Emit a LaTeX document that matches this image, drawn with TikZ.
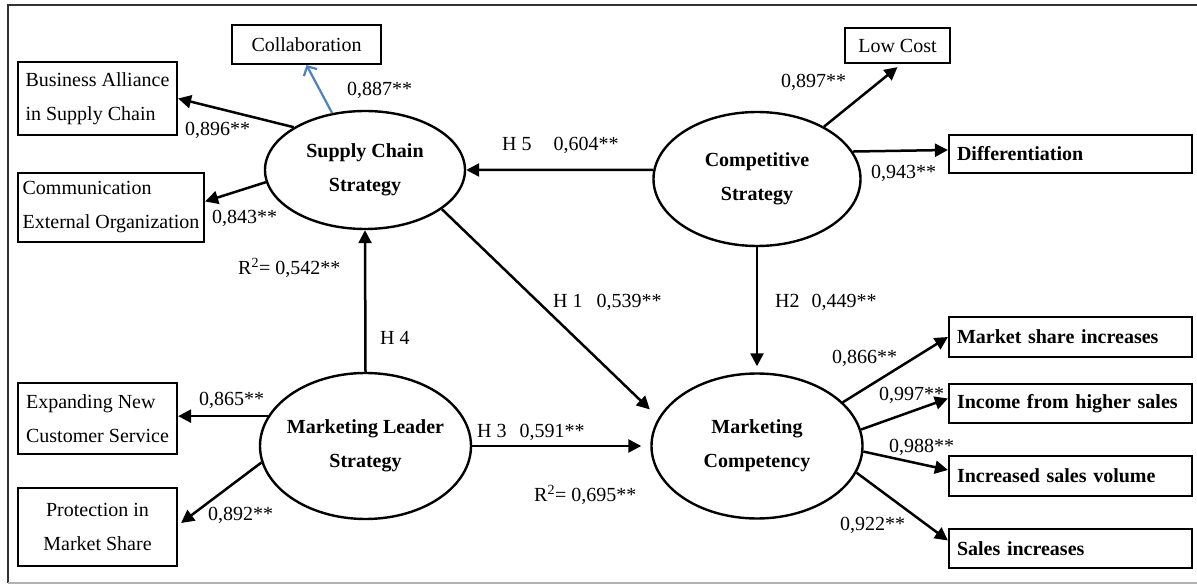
\documentclass[tikz,border=0pt]{standalone}
\usepackage{fontspec}
\setmainfont{Liberation Serif}
\usepackage{tikz}
\usetikzlibrary{positioning,arrows.meta,shapes.geometric}
\definecolor{linkblue}{RGB}{79,129,189}

\begin{document}
\begin{tikzpicture}[
  x=1pt, y=-1pt,
  every node/.style={font=\fontsize{20pt}{34pt}\selectfont},
  box/.style={draw, line width=2.2pt, inner sep=3pt, align=left},
  cbox/.style={box, align=center},
  bbox/.style={draw, line width=2.2pt, inner xsep=8pt, inner ysep=2pt, text width=227pt, minimum width=243pt, align=left, font=\fontsize{20pt}{34pt}\selectfont\bfseries},
  latent/.style={draw, ellipse, line width=2.4pt, inner sep=0pt, align=center, font=\fontsize{20pt}{34pt}\selectfont\bfseries},
  arr/.style={-{Triangle[length=13pt,width=13pt]}, line width=2.5pt},
  blarr/.style={-{Straight Barb[length=7pt,width=15pt]}, line width=2.2pt, draw=linkblue},
  coef/.style={anchor=west, inner sep=0pt},
]
\useasboundingbox (0,0) rectangle (1197,585);
\draw[line width=2pt, black!80] (1197,5) -- (8,5) -- (8,583);
\draw[line width=1.5pt, black!30] (8,583) -- (1197,583);

\node[cbox, minimum width=149pt, minimum height=39pt] (collab) at (306.5,44.5) {Collaboration};
\node[box, minimum width=159pt, minimum height=73pt] (alliance) at (97.5,98.5) {Business Alliance\\in Supply Chain};
\node[box, minimum width=186pt, minimum height=69pt] (comm) at (111,207.5) {Communication\\External Organization};
\node[cbox, minimum width=105pt, minimum height=35pt] (lowcost) at (897.5,45.5) {Low Cost};
\node[bbox, minimum height=38pt] (diff) at (1070.5,154) {Differentiation};
\node[bbox, minimum height=40pt] (mshare) at (1070.5,337) {Market share increases};
\node[bbox, minimum height=39pt] (income) at (1070.5,403.5) {Income from higher sales};
\node[bbox, minimum height=40pt] (volume) at (1070.5,476) {Increased sales volume};
\node[bbox, minimum height=39pt] (sales) at (1070.5,548.5) {Sales increases};
\node[box, minimum width=159pt, minimum height=71pt] (expand) at (97.5,418.5) {Expanding New\\Customer Service};
\node[cbox, minimum width=159pt, minimum height=78pt] (protect) at (97.5,527) {Protection in\\Market Share};

\node[latent, minimum width=200pt, minimum height=118pt] (scs) at (365,170) {Supply Chain\\Strategy};
\node[latent, minimum width=207pt, minimum height=134pt] (cs) at (757,179) {Competitive\\Strategy};
\node[latent, minimum width=211pt, minimum height=146pt, inner xsep=-14pt] (mls) at (365.5,446) {Marketing Leader\\Strategy};
\node[latent, minimum width=211pt, minimum height=145pt] (mc) at (757,446) {Marketing\\Competency};

\draw[blarr] (scs.120) -- (collab.south);
\draw[arr] (scs.149) -- (alliance.east);
\draw[arr] (scs.187) -- ([yshift=6pt]comm.east);
\draw[arr] (cs.175) -- (scs.east);
\draw[arr, shorten >=12pt] (scs.-27) -- (mc.164);
\draw[arr, shorten >=6pt] (cs.south) -- (mc.north);
\draw[arr] (cs.38) -- ([yshift=-3pt]lowcost.south);
\draw[arr] (cs.16) -- ([yshift=4pt]diff.west);
\draw[arr] (mls.north) -- (scs.south);
\draw[arr, shorten >=9pt] (mls.east) -- (mc.west);
\draw[arr] (mls.163) -- (mls.163 -| expand.east);
\draw[arr] (mls.189) -- ([xshift=3pt,yshift=4pt]protect.east);
\draw[arr] (mc.27) -- (mshare.west);
\draw[arr] (mc.9) -- ([yshift=5pt]income.west);
\draw[arr] (mc.-3) -- ([yshift=6pt]volume.west);
\draw[arr] (mc.-15) -- ([yshift=8pt]sales.west);

\node[coef] (l-collab) at (347,90) {0,887**};
\node[coef] (l-alliance) at (185,130) {0,896**};
\node[coef] (l-comm) at (212,218) {0,843**};
\node[coef] (l-h5) at (502,145) {H 5\hspace{22pt}0,604**};
\node[coef] (l-lowcost) at (781,82) {0,897**};
\node[coef] (l-diff) at (871,173) {0,943**};
\node[coef] (l-r2sc) at (238,268) {R\textsuperscript{2}= 0,542**};
\node[coef] (l-h4) at (380,338) {H 4};
\node[coef] (l-h1) at (553,302) {H 1\hspace{14pt}0,539**};
\node[coef] (l-h2) at (775,302) {H2\hspace{12pt}0,449**};
\node[coef] (l-mshare) at (832,358) {0,866**};
\node[coef] (l-income) at (879,395) {0,997**};
\node[coef] (l-volume) at (889,447) {0,988**};
\node[coef] (l-sales) at (840,525) {0,922**};
\node[coef] (l-h3) at (477,432) {H 3\hspace{13pt}0,591**};
\node[coef] (l-r2mc) at (534,495) {R\textsuperscript{2}= 0,695**};
\node[coef] (l-expand) at (199,400) {0,865**};
\node[coef] (l-protect) at (208,515) {0,892**};
\end{tikzpicture}
\end{document}
